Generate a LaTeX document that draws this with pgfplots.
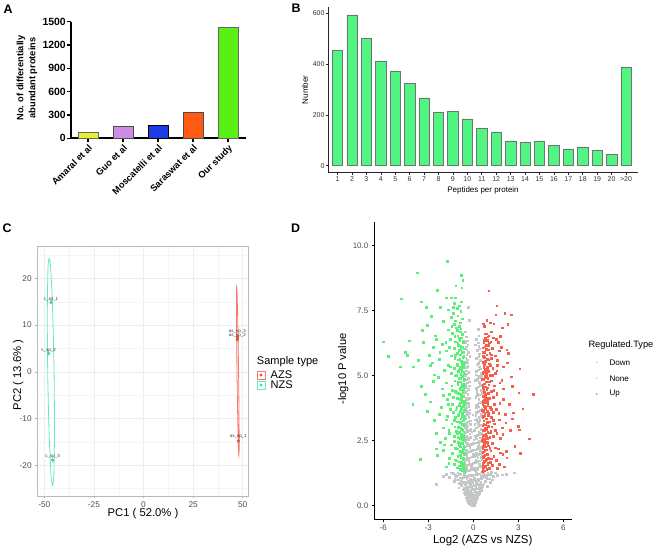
\documentclass[border=0pt]{standalone}
\usepackage{pgfplots}
\pgfplotsset{compat=1.18}
\usepackage{fontspec}
\setmainfont{Liberation Sans}
\definecolor{amaral}{RGB}{230,240,50}
\definecolor{guo}{RGB}{205,140,230}
\definecolor{mosc}{RGB}{30,60,230}
\definecolor{sara}{RGB}{255,90,20}
\definecolor{ours}{RGB}{90,240,20}
\definecolor{mint}{RGB}{80,245,130}
\definecolor{azsl}{RGB}{248,118,109}
\definecolor{azsp}{RGB}{240,80,50}
\definecolor{nzsl}{RGB}{100,235,185}
\definecolor{nzsp}{RGB}{60,225,150}
\definecolor{vgrey}{RGB}{195,199,199}
\definecolor{vgreen}{RGB}{90,240,120}
\definecolor{vred}{RGB}{245,95,75}
\definecolor{tgrey}{RGB}{77,77,77}
\newcommand{\fs}[1]{\fontsize{#1}{#1}\selectfont}
\pgfplotsset{
 vgreyst/.style={only marks, mark=square*, mark size=0.8bp, mark options={fill=vgrey, draw=vgrey, line width=0.1pt}},
 vgreenst/.style={only marks, mark=square*, mark size=0.8bp, mark options={fill=vgreen, draw=vgreen, line width=0.1pt}},
 vredst/.style={only marks, mark=square*, mark size=0.8bp, mark options={fill=vred, draw=vred, line width=0.1pt}}}
\begin{document}
\begin{tikzpicture}
\useasboundingbox (0,0) rectangle (660bp,547bp);
% ---------------- Panel A
\begin{axis}[at={(71bp,408.7bp)}, anchor=south west, scale only axis, width=175bp, height=116.6bp,
 xmin=-0.486, xmax=4.514, ymin=0, ymax=1500,
 axis lines=left, axis line style={-, line width=1.6bp, black},
 tick align=outside, major tick length=4bp, tick style={line width=1.4bp, black},
 xtick={0,1,2,3,4}, xticklabels={Amaral et al, Guo et al, Moscatelli et al, Saraswat et al, Our study},
 xticklabel style={rotate=45, anchor=north east, font=\bfseries\fs{9.3}, inner sep=1pt},
 ytick={0,300,600,900,1200,1500}, yticklabels={0,300,600,900,1200,1500},
 yticklabel style={font=\bfseries\fs{10.5}, inner sep=1pt}, clip=false]
\addplot[ybar, bar width=20bp, bar shift=0pt, fill=amaral, draw=gray!80!black, line width=0.9bp] coordinates {(0,77)};
\addplot[ybar, bar width=20bp, bar shift=0pt, fill=guo, draw=black!70, line width=0.9bp] coordinates {(1,149)};
\addplot[ybar, bar width=20bp, bar shift=0pt, fill=mosc, draw=black, line width=0.9bp] coordinates {(2,171)};
\addplot[ybar, bar width=20bp, bar shift=0pt, fill=sara, draw=black!70, line width=0.9bp] coordinates {(3,334)};
\addplot[ybar, bar width=20bp, bar shift=0pt, fill=ours, draw=gray!80!black, line width=0.9bp] coordinates {(4,1428)};
\end{axis}
\node[rotate=90, align=center, font=\bfseries\fontsize{9.3}{12}\selectfont] at (27bp,469bp) {No. of differentially\\abundant proteins};
\node[font=\bfseries\fs{12.5}] at (8bp,538bp) {A};
% ---------------- Panel B
\begin{axis}[at={(328.3bp,374.3bp)}, anchor=south west, scale only axis, width=309.7bp, height=166bp,
 xmin=0.36, xmax=21.83, ymin=-27.6, ymax=626,
 axis lines=left, axis line style={-, line width=0.7bp, black!85},
 tick align=outside, major tick length=2.5bp, tick style={line width=0.6bp, black!85},
 xtick={1,...,21}, xticklabels={1,2,3,4,5,6,7,8,9,10,11,12,13,14,15,16,17,18,19,20,>20},
 ytick={0,200,400,600}, yticklabels={0,200,400,600},
 ticklabel style={font=\fs{7}, text=black!80, inner sep=1.2pt}]
\addplot[ybar, bar width=10.4bp, bar shift=0pt, fill=mint, draw=black!55, line width=0.5bp] coordinates {
(1,455) (2,594) (3,501) (4,412) (5,372) (6,324) (7,267) (8,210) (9,213) (10,184) (11,146)
(12,133) (13,98) (14,92) (15,97) (16,80) (17,65) (18,74) (19,61) (20,45) (21,389)};
\end{axis}
\node[rotate=90, font=\fs{8}] at (305bp,457bp) {Number};
\node[font=\fs{8}] at (483bp,357bp) {Peptides per protein};
\node[font=\bfseries\fs{12.5}] at (296bp,539bp) {B};
% ---------------- Panel C
\begin{axis}[at={(37.7bp,51bp)}, anchor=south west, scale only axis, width=210.6bp, height=249.3bp,
 xmin=-53.3, xmax=52.8, ymin=-26.6, ymax=26.8,
 axis line style={gray!55, line width=0.8bp},
 tick pos=left, tick align=outside, major tick length=2.5bp, tick style={gray!60, line width=0.6bp},
 xtick={-50,-25,0,25,50}, xticklabels={-50,-25,0,25,50},
 ytick={-20,-10,0,10,20}, yticklabels={-20,-10,0,10,20},
 minor xtick={-37.5,-12.5,12.5,37.5}, minor ytick={-25,-15,-5,5,15,25},
 minor tick length=0pt,
 grid=both, major grid style={gray!14, line width=0.5bp}, minor grid style={gray!8, line width=0.3bp},
 ticklabel style={font=\fs{8.3}, text=tgrey}]
\addplot[nzsl, line width=0.8bp, smooth, tension=0.6] coordinates {
(-45.05,-0.05) (-44.84,-12.23) (-45.11,-21.14) (-45.42,-23.57) (-45.8,-24.4) (-46.24,-23.57) (-46.71,-21.14)
(-47.61,-12.23) (-48.25,-0.05) (-48.46,12.13) (-48.19,21.04) (-47.89,23.47) (-47.5,24.3) (-47.06,23.47)
(-46.59,21.04) (-45.69,12.13) (-45.05,-0.05)};
\addplot[azsl, line width=0.8bp, smooth, tension=0.6] coordinates {
(47.9,0.1) (48.12,-8.95) (48.18,-15.57) (48.13,-17.38) (48.05,-18.0) (47.93,-17.38) (47.78,-15.57)
(47.43,-8.95) (47.1,0.1) (46.88,9.15) (46.82,15.77) (46.87,17.58) (46.95,18.2) (47.07,17.58)
(47.22,15.77) (47.57,9.15) (47.9,0.1)};
\addplot[only marks, mark=*, mark size=1.5bp, mark options={fill=nzsp, draw=nzsp!85!black, line width=0.3bp}] coordinates {
(-46.6,14.9) (-47.8,3.9) (-45.8,-18.9)};
\addplot[only marks, mark=*, mark size=1.5bp, mark options={fill=azsp, draw=azsp!85!black, line width=0.3bp}] coordinates {
(47.4,7.4) (47.3,6.95) (47.8,-14.8)};
\node[font=\fs{4.5}, text=black!80] at (axis cs:-46.6,15.6) {c\_sp\_1};
\node[font=\fs{4.5}, text=black!80] at (axis cs:-47.8,4.6) {c\_sp\_2};
\node[font=\fs{4.5}, text=black!80] at (axis cs:-45.8,-18.1) {c\_sp\_3};
\node[font=\fs{4.5}, text=black!80] at (axis cs:47.3,8.6) {as\_sp\_3};
\node[font=\fs{4.5}, text=black!80] at (axis cs:47.3,7.9) {as\_sp\_2};
\node[font=\fs{4.5}, text=black!80] at (axis cs:47.8,-13.8) {as\_sp\_1};
\end{axis}
\node[font=\fs{11.3}] at (143bp,33.7bp) {PC1 ( 52.0\% )};
\node[rotate=90, font=\fs{11.3}] at (18.3bp,172bp) {PC2 ( 13.6\% )};
\node[anchor=west, font=\fs{11.1}, inner sep=0pt] at (256.7bp,185.3bp) {Sample type};
\draw[azsl, line width=0.7bp] (257bp,168bp) rectangle (265bp,176bp);
\fill[azsp] (261bp,172bp) circle (1.6bp);
\draw[nzsl, line width=0.7bp] (257bp,158bp) rectangle (265bp,166bp);
\fill[nzsp] (261bp,162bp) circle (1.6bp);
\node[anchor=west, font=\fs{11.1}, inner sep=0pt] at (270.5bp,172bp) {AZS};
\node[anchor=west, font=\fs{11.1}, inner sep=0pt] at (270.5bp,162bp) {NZS};
\node[font=\bfseries\fs{12.5}] at (7bp,318.5bp) {C};
% ---------------- Panel D
\begin{axis}[at={(374.3bp,28bp)}, anchor=south west, scale only axis, width=197.7bp, height=297bp,
 xmin=-6.6, xmax=6.58, ymin=-0.51, ymax=10.91,
 axis lines=left, axis line style={-, black, line width=0.8bp},
 tick align=outside, major tick length=2.5bp, tick style={black, line width=0.6bp},
 xtick={-6,-3,0,3,6}, xticklabels={-6,-3,0,3,6},
 ytick={0,2.5,5,7.5,10}, yticklabels={0.0,2.5,5.0,7.5,10.0},
 ticklabel style={font=\fs{8}, text=tgrey}]
% None
\addplot[vgreyst] coordinates {
(-0.12,0.02) (-0.08,0.05) (-0.15,0.08) (-0.05,0.11) (-0.2,0.14) (-0.1,0.17) (0.0,0.19) (-0.25,0.21) (-0.14,0.24) (0.05,0.26)
(-0.3,0.28) (-0.18,0.3) (-0.06,0.33) (0.1,0.35) (-0.35,0.37) (-0.22,0.39) (0.02,0.41) (0.15,0.43) (-0.4,0.45) (-0.28,0.47)
(-0.1,0.49) (0.2,0.5) (-0.03,0.07) (-0.17,0.12) (-0.09,0.27) (0.08,0.15) (-0.26,0.33) (0.12,0.22) (-0.32,0.18) (0.18,0.31)
(-0.45,0.4) (0.25,0.44) (-0.5,0.48) (0.3,0.47) (-0.38,0.25) (-0.21,0.06) (0.03,0.03) (-0.13,0.44) (0.06,0.38) (-0.24,0.42)
(-0.55,0.52) (-0.42,0.55) (-0.3,0.57) (-0.18,0.6) (-0.05,0.62) (0.08,0.64) (0.22,0.66) (0.35,0.68) (-0.65,0.7) (-0.5,0.72)
(-0.36,0.74) (-0.24,0.76) (-0.1,0.78) (0.04,0.8) (0.18,0.82) (0.32,0.84) (0.45,0.86) (-0.78,0.88) (-0.6,0.9) (-0.45,0.92)
(-0.3,0.94) (-0.15,0.96) (0.0,0.98) (0.14,1.0) (0.28,1.02) (0.42,1.04) (0.56,1.06) (-0.9,1.08) (-0.7,1.1) (-0.52,1.12)
(-0.38,1.14) (-0.22,1.16) (-0.08,1.18) (0.1,1.2) (0.26,1.22) (0.4,1.24) (0.62,1.26) (-1.05,1.28) (-0.85,0.95) (-0.95,1.2)
(0.7,1.15) (0.85,1.1) (0.95,1.25) (1.15,1.22) (1.3,1.15) (-1.2,1.18) (-1.35,1.25) (0.75,0.95) (0.6,0.8) (-0.7,0.62)
(0.5,0.6) (-0.85,0.78) (1.45,1.28) (-1.5,1.27) (1.05,1.05) (-1.1,1.0) (0.65,1.28) (-0.62,1.22) (0.5,1.14) (-0.45,1.05)
(0.2,0.9) (-0.28,0.85) (0.38,0.75) (-0.12,0.7) (-0.4,0.65) (0.12,0.55) (2.71,1.27) (-2.5,0.83) (1.9,1.2) (-1.8,1.22)
(-0.55,1.32) (-0.4,1.35) (-0.25,1.38) (-0.1,1.41) (0.05,1.44) (0.2,1.47) (0.35,1.5) (0.5,1.53) (-0.5,1.56) (-0.35,1.59)
(-0.2,1.62) (-0.05,1.65) (0.1,1.68) (0.25,1.71) (0.42,1.74) (0.55,1.77) (-0.56,1.8) (-0.42,1.83) (-0.28,1.86) (-0.12,1.89)
(0.03,1.92) (0.18,1.95) (0.32,1.98) (0.48,2.01) (-0.52,2.04) (-0.38,2.07) (-0.22,2.1) (-0.08,2.13) (0.08,2.16) (0.22,2.19)
(0.38,2.22) (0.52,2.25) (-0.57,2.28) (-0.45,2.31) (-0.3,2.34) (-0.15,2.37) (0.0,2.4) (0.15,2.43) (0.3,2.46) (0.45,2.49)
(-0.48,1.45) (0.4,1.62) (-0.33,1.72) (0.28,1.85) (-0.45,1.95) (0.45,2.1) (-0.25,2.25) (0.35,2.35) (-0.53,2.45) (0.12,1.38)
(-0.58,2.52) (-0.45,2.56) (-0.32,2.6) (-0.2,2.64) (0.12,2.68) (0.25,2.72) (0.38,2.76) (0.5,2.8) (-0.55,2.84) (-0.42,2.88)
(-0.3,2.92) (-0.18,2.96) (0.15,3.0) (0.28,3.04) (0.4,3.08) (0.53,3.12) (-0.57,3.16) (-0.47,3.2) (-0.35,3.24) (-0.22,3.28)
(0.1,3.32) (0.22,3.36) (0.35,3.4) (0.48,3.44) (-0.52,3.48) (-0.4,3.52) (-0.28,3.56) (0.18,3.6) (0.3,3.64) (0.44,3.68)
(0.55,3.72) (-0.56,3.76) (-0.44,3.8) (-0.32,3.84) (0.14,3.88) (0.27,3.92) (0.4,3.96) (0.52,3.99) (-0.5,2.7) (0.45,2.62)
(-0.38,3.05) (0.33,3.18) (-0.48,3.62) (0.2,3.78) (-0.25,3.7) (0.05,2.9) (-0.05,3.5)
(-0.55,4.03) (-0.42,4.08) (-0.3,4.13) (0.15,4.18) (0.28,4.23) (0.42,4.28) (0.54,4.33) (-0.57,4.38) (-0.45,4.43) (-0.33,4.48)
(0.2,4.53) (0.32,4.58) (0.46,4.63) (-0.52,4.68) (-0.4,4.73) (-0.27,4.78) (0.12,4.83) (0.25,4.88) (0.4,4.93) (0.52,4.98)
(-0.56,5.03) (-0.44,5.08) (-0.33,5.13) (0.18,5.18) (0.3,5.23) (0.44,5.28) (-0.5,5.33) (-0.38,5.38) (0.22,5.43) (0.36,5.48)
(-0.48,4.55) (0.5,4.45) (-0.36,4.92) (0.48,5.1)
(-0.5,5.55) (-0.4,5.62) (0.2,5.68) (0.35,5.75) (-0.45,5.82) (-0.35,5.9) (0.25,5.98) (0.42,6.05) (-0.48,6.12) (-0.38,6.2)
(0.3,6.28) (-0.42,6.35) (0.18,6.42) (-0.5,6.5) (0.35,6.55) (-0.37,7.63) (-0.3,7.15) (0.3,6.8) (-0.55,6.7) (0.1,6.2)
(-0.25,5.75) (0.45,5.6)};
\addplot[vgreyst] coordinates {
(-0.16,0.04) (-0.02,0.09) (-0.27,0.1) (0.1,0.12) (-0.36,0.15) (0.16,0.17) (-0.07,0.2) (-0.43,0.23) (0.22,0.25) (-0.19,0.27)
(0.07,0.29) (-0.48,0.32) (0.27,0.34) (-0.11,0.36) (0.2,0.38) (-0.33,0.41) (0.33,0.43) (-0.55,0.44) (-0.04,0.46) (0.38,0.49)
(-0.62,0.51) (-0.23,0.53) (0.28,0.55) (-0.47,0.58) (0.43,0.6) (-0.72,0.63) (-0.01,0.65) (0.52,0.67) (-0.58,0.69) (-0.33,0.71)
(0.15,0.73) (0.6,0.75) (-0.8,0.77) (-0.19,0.79) (0.27,0.81) (-0.55,0.83) (0.68,0.85) (-0.95,0.87) (-0.08,0.89) (0.48,0.91)
(-0.68,0.93) (0.8,0.95) (-0.35,0.97) (0.34,0.99) (-1.0,1.01) (-0.2,1.03) (0.9,1.05) (-0.78,1.07) (0.05,1.09) (0.6,1.11)
(-1.15,1.13) (-0.48,1.15) (0.78,1.17) (-0.3,1.19) (1.0,1.21) (-0.88,1.23) (0.18,1.25) (-0.6,1.27) (1.2,1.29) (-1.25,1.05)
(1.1,0.9) (-1.3,0.95) (1.25,1.0) (-0.98,0.7) (0.9,0.75) (-1.6,1.1) (1.6,1.18) (-2.0,1.15) (2.2,1.22)
(-0.44,1.37) (0.28,1.4) (-0.17,1.48) (0.44,1.55) (-0.58,1.68) (0.15,1.76) (-0.36,1.8) (0.5,1.88) (-0.03,1.98) (-0.5,2.15)
(0.3,2.3) (-0.4,2.4) (0.2,2.05) (-0.14,1.55) (0.55,1.95) (-0.33,2.55) (0.2,2.58) (-0.5,2.66) (0.35,2.85) (-0.26,2.78)
(0.48,2.95) (-0.45,3.1) (0.24,3.25) (-0.55,3.35) (0.42,3.3) (-0.32,3.42) (0.16,3.48) (-0.42,3.66) (0.5,3.55) (-0.36,3.95)
(0.33,3.82) (-0.53,3.9) (0.08,3.15) (-0.12,2.85) (0.02,2.55) (-0.58,3.0) (0.55,3.5) (-0.48,2.98) (0.38,2.5) (-0.22,3.15)
(-0.48,4.15) (0.35,4.1) (-0.38,4.3) (0.22,4.4) (-0.54,4.6) (0.4,4.75) (-0.44,4.85) (0.3,5.0) (-0.5,5.2) (0.38,5.35)
(-0.42,5.5) (0.28,5.5) (-0.52,5.7) (0.4,5.85) (-0.44,6.0) (0.34,6.15) (-0.53,6.3) (0.25,4.3) (-0.3,4.62) (0.15,5.05)};
% Down
\addplot[vgreenst] coordinates {
(-0.62,1.33) (-0.75,1.38) (-0.9,1.42) (-1.1,1.47) (-0.68,1.52) (-0.82,1.57) (-1.3,1.6) (-0.65,1.65) (-0.95,1.7) (-1.15,1.74)
(-0.72,1.8) (-1.6,1.83) (-0.85,1.88) (-1.05,1.92) (-0.63,1.97) (-1.4,2.02) (-0.78,2.06) (-0.92,2.1) (-2.0,2.14) (-0.7,2.18)
(-1.2,2.22) (-0.88,2.27) (-0.66,2.31) (-1.5,2.35) (-0.8,2.4) (-1.0,2.44) (-2.4,1.95) (-2.5,2.2) (-3.57,1.8) (-1.8,1.5) (-2.2,2.45)
(-0.64,2.52) (-0.75,2.56) (-0.9,2.6) (-1.05,2.64) (-1.3,2.68) (-0.68,2.72) (-0.82,2.76) (-1.6,2.8) (-0.96,2.84) (-1.15,2.88)
(-0.72,2.92) (-0.86,2.96) (-2.0,3.0) (-1.25,3.04) (-0.62,3.08) (-0.78,3.12) (-1.45,3.16) (-0.93,3.2) (-1.08,3.24) (-0.7,3.28)
(-1.8,3.32) (-0.84,3.36) (-1.2,3.4) (-0.66,3.44) (-1.0,3.48) (-2.3,3.52) (-0.76,3.56) (-1.35,3.6) (-0.9,3.64) (-0.63,3.68)
(-1.55,3.72) (-0.8,3.76) (-1.12,3.8) (-0.7,3.84) (-0.95,3.88) (-1.7,3.92) (-0.74,3.96) (-2.5,2.8) (-3.1,3.63) (-2.9,4.0)
(-4.05,3.9) (-1.9,2.6) (-1.4,3.9) (-0.88,3.0) (-0.67,2.62)
(-0.63,4.02) (-0.78,4.06) (-0.92,4.1) (-1.1,4.14) (-1.35,4.18) (-0.68,4.22) (-0.84,4.26) (-1.6,4.3) (-1.0,4.34) (-0.72,4.38)
(-1.2,4.42) (-0.9,4.46) (-2.1,4.5) (-0.65,4.54) (-0.8,4.58) (-1.45,4.62) (-1.05,4.66) (-0.7,4.7) (-1.8,4.74) (-0.88,4.78)
(-1.25,4.82) (-0.62,4.86) (-0.96,4.9) (-2.35,4.94) (-0.75,4.98) (-1.15,5.02) (-0.85,5.06) (-1.5,5.1) (-0.66,5.14) (-1.0,5.18)
(-1.95,5.22) (-0.78,5.26) (-1.3,5.3) (-0.9,5.34) (-0.7,5.38) (-1.7,5.42) (-1.08,5.46) (-3.2,4.3) (-2.7,4.8) (-2.9,5.4)
(-4.9,5.35) (-4.0,5.35) (-0.82,4.14) (-1.4,4.45) (-0.76,5.45)
(-0.65,5.52) (-0.82,5.57) (-1.0,5.62) (-1.25,5.67) (-0.72,5.72) (-1.5,5.77) (-0.9,5.82) (-1.1,5.87) (-0.68,5.92) (-1.8,5.97)
(-0.85,6.02) (-1.3,6.07) (-0.75,6.12) (-1.0,6.17) (-2.1,6.22) (-0.7,6.27) (-1.2,6.32) (-0.92,6.37) (-1.55,6.42) (-0.8,6.47)
(-1.05,6.55) (-1.4,6.63) (-0.88,6.7) (-1.7,6.78) (-1.15,6.85) (-0.95,6.92) (-1.3,6.98) (-2.97,5.8) (-2.68,6.1) (-2.57,6.55)
(-2.47,6.4) (-3.7,5.6) (-4.4,5.8) (-4.56,5.9) (-5.67,5.76) (-6.0,6.32) (-4.29,6.35) (-3.4,6.75) (-3.1,6.95) (-2.3,5.65)
(-0.9,7.05) (-1.2,7.12) (-0.75,7.2) (-1.5,7.25) (-1.05,7.32) (-1.35,7.4) (-0.85,7.48) (-1.7,7.55) (-1.1,7.6) (-1.3,7.8)
(-1.47,8.0) (-1.8,8.0) (-1.18,8.46) (-0.78,8.39) (-0.73,8.67) (-0.8,8.86) (-2.4,8.3) (-3.17,7.63) (-3.5,7.85) (-4.8,7.96)
(-3.77,8.97) (-1.77,9.41) (-2.8,7.3) (-2.0,7.1) (-0.95,7.7)};
\addplot[vgreenst] coordinates {
(-0.61,1.4) (-0.7,1.45) (-0.97,1.55) (-0.64,1.62) (-0.8,1.68) (-1.22,1.78) (-0.69,1.86) (-0.9,1.95) (-0.61,2.04) (-0.75,2.12)
(-1.08,2.2) (-0.66,2.26) (-0.95,2.34) (-0.73,2.42) (-1.3,2.48)
(-0.61,2.58) (-0.85,2.65) (-0.7,2.7) (-1.1,2.78) (-0.64,2.86) (-0.78,2.95) (-1.0,3.02) (-0.69,3.14) (-0.88,3.22) (-1.3,3.3)
(-0.61,3.38) (-0.74,3.45) (-0.98,3.55) (-0.66,3.62) (-1.18,3.7) (-0.82,3.8) (-0.62,3.9) (-0.9,3.97)
(-0.71,4.04) (-0.99,4.12) (-0.64,4.2) (-0.8,4.3) (-1.15,4.38) (-0.67,4.46) (-0.9,4.52) (-0.61,4.62) (-0.74,4.68) (-1.05,4.76)
(-0.66,4.84) (-0.84,4.92) (-1.25,5.0) (-0.62,5.08) (-0.78,5.16) (-0.96,5.24) (-0.68,5.32) (-1.1,5.4) (-0.63,5.48)
(-0.77,5.55) (-0.92,5.65) (-0.66,5.75) (-1.2,5.8) (-0.74,5.9) (-0.98,5.98) (-0.62,6.05) (-0.86,6.15) (-1.05,6.25) (-0.7,6.35)
(-0.94,6.45) (-1.25,6.52) (-0.74,6.6) (-1.1,6.75) (-0.84,6.82) (-1.45,6.9)
(-1.65,2.9) (-1.75,4.1) (-1.55,5.35) (-1.85,6.3) (-2.15,3.8) (-2.0,4.25) (-1.65,1.65) (-2.6,3.3) (-1.95,2.35) (-2.25,5.9)
(-1.6,6.1) (-2.6,5.05) (-1.35,7.65) (-0.82,7.85) (-1.2,8.0) (-2.2,7.65) (-3.35,6.3) (-2.75,5.5) (-3.5,4.6) (-1.75,3.45)};
% Up
\addplot[vredst] coordinates {
(0.6,1.32) (0.72,1.36) (0.88,1.4) (1.05,1.44) (0.65,1.48) (0.8,1.52) (1.25,1.56) (0.62,1.6) (0.95,1.64) (1.12,1.68)
(0.7,1.72) (1.5,1.76) (0.84,1.8) (1.0,1.84) (0.64,1.88) (1.35,1.92) (0.76,1.96) (0.9,2.0) (1.8,2.04) (0.68,2.08)
(1.15,2.12) (0.85,2.16) (0.62,2.2) (1.45,2.24) (0.78,2.28) (1.0,2.32) (0.7,2.36) (1.25,2.4) (0.9,2.44) (1.96,1.98)
(2.22,1.85) (2.2,2.1) (3.12,2.02) (1.6,1.45) (0.66,2.48)
(0.6,2.52) (0.74,2.56) (0.9,2.6) (1.08,2.64) (1.3,2.68) (0.66,2.72) (0.82,2.76) (1.55,2.8) (0.96,2.84) (1.15,2.88)
(0.7,2.92) (0.86,2.96) (1.9,3.0) (1.22,3.04) (0.62,3.08) (0.78,3.12) (1.4,3.16) (0.93,3.2) (1.05,3.24) (0.68,3.28)
(1.7,3.32) (0.84,3.36) (1.18,3.4) (0.64,3.44) (1.0,3.48) (2.1,3.52) (0.76,3.56) (1.3,3.6) (0.9,3.64) (0.6,3.68)
(1.5,3.72) (0.8,3.76) (1.1,3.8) (0.7,3.84) (0.95,3.88) (1.67,3.56) (0.74,3.96) (2.46,2.9) (3.7,2.58) (3.05,2.93)
(3.0,3.06) (2.58,3.35) (2.64,3.58) (3.29,3.73) (1.8,2.6) (1.4,3.9) (0.88,3.0)
(0.62,4.02) (0.76,4.06) (0.9,4.1) (1.08,4.14) (1.3,4.18) (0.66,4.22) (0.82,4.26) (1.55,4.3) (0.98,4.34) (0.7,4.38)
(1.18,4.42) (0.88,4.46) (2.0,4.5) (0.64,4.54) (0.8,4.58) (1.4,4.62) (1.02,4.66) (0.7,4.7) (1.75,4.74) (0.86,4.78)
(1.2,4.82) (0.6,4.86) (0.94,4.9) (0.74,4.98) (1.12,5.02) (0.84,5.06) (1.45,5.1) (0.64,5.14) (0.98,5.18) (0.78,5.26)
(1.28,5.3) (0.9,5.34) (0.68,5.38) (1.6,5.42) (1.05,5.46) (1.56,4.33) (1.89,4.84) (2.5,4.97) (3.02,4.35) (3.98,4.3)
(2.0,5.35) (3.07,5.28) (0.8,4.14) (1.35,4.45) (0.72,5.45)
(0.62,5.52) (0.8,5.57) (0.98,5.62) (1.2,5.67) (0.7,5.72) (1.45,5.77) (0.88,5.82) (1.08,5.87) (0.66,5.92) (1.7,5.97)
(0.84,6.02) (1.25,6.07) (0.74,6.12) (0.98,6.17) (0.68,6.27) (1.15,6.32) (0.9,6.37) (1.5,6.42) (0.78,6.47) (1.02,6.55)
(1.31,6.46) (0.86,6.62) (1.78,6.52) (1.2,6.7) (2.22,6.0) (2.33,5.86) (1.9,6.85) (2.29,6.99) (0.72,6.9) (1.6,5.6)
(0.87,7.15) (1.47,7.35) (1.56,7.7) (2.07,7.42) (2.5,7.35) (1.02,8.27) (0.65,7.0) (1.1,7.05)};
\addplot[vredst] coordinates {
(0.61,1.42) (0.7,1.5) (0.95,1.58) (0.64,1.66) (0.8,1.74) (1.2,1.82) (0.69,1.9) (0.9,1.98) (0.61,2.06) (0.75,2.14)
(1.08,2.22) (0.66,2.3) (0.95,2.38) (0.73,2.46)
(0.61,2.6) (0.85,2.68) (0.7,2.74) (1.1,2.82) (0.64,2.9) (0.78,2.98) (1.0,3.06) (0.69,3.16) (0.88,3.24) (1.3,3.3)
(0.61,3.4) (0.74,3.47) (0.98,3.56) (0.66,3.64) (1.18,3.72) (0.82,3.82) (0.62,3.92) (0.9,3.98)
(0.71,4.06) (0.99,4.14) (0.64,4.22) (0.8,4.32) (1.15,4.4) (0.67,4.48) (0.9,4.54) (0.61,4.64) (0.74,4.7) (1.05,4.78)
(0.66,4.86) (0.84,4.94) (1.25,5.02) (0.62,5.1) (0.78,5.18) (0.96,5.26) (0.68,5.34) (1.1,5.42) (0.63,5.5)
(0.77,5.58) (0.92,5.66) (0.66,5.76) (1.2,5.82) (0.74,5.92) (0.98,6.0) (0.62,6.08) (0.86,6.18) (1.05,6.28) (0.7,6.36)
(0.94,6.5) (0.74,6.62)
(1.65,2.2) (1.75,3.95) (1.55,5.2) (1.85,6.1) (2.15,3.2) (2.0,4.1) (1.7,1.6) (2.4,3.9) (1.95,2.75) (2.25,5.5)
(1.65,6.3) (2.6,4.6) (1.35,7.0) (2.05,1.5) (2.75,2.3) (1.45,2.9)};
\end{axis}
\node[font=\fs{11.5}] at (482.7bp,6.5bp) {Log2 (AZS vs NZS)};
\node[rotate=90, font=\fs{11.2}] at (343.3bp,178bp) {-log10 P value};
\node[anchor=west, font=\fs{9.3}, inner sep=0pt] at (588.3bp,202bp) {Regulated.Type};
\fill[vgreen] (596.7bp,184.7bp) circle (0.8bp);
\fill[vgrey] (596.7bp,168.7bp) circle (0.8bp);
\fill[vred] (596.7bp,153bp) circle (0.8bp);
\node[anchor=west, font=\fs{8.1}, inner sep=0pt] at (609.3bp,184.7bp) {Down};
\node[anchor=west, font=\fs{8.1}, inner sep=0pt] at (609.3bp,168.7bp) {None};
\node[anchor=west, font=\fs{8.1}, inner sep=0pt] at (609.3bp,153bp) {Up};
\node[font=\bfseries\fs{12.5}] at (295.5bp,318.5bp) {D};
\end{tikzpicture}
\end{document}
